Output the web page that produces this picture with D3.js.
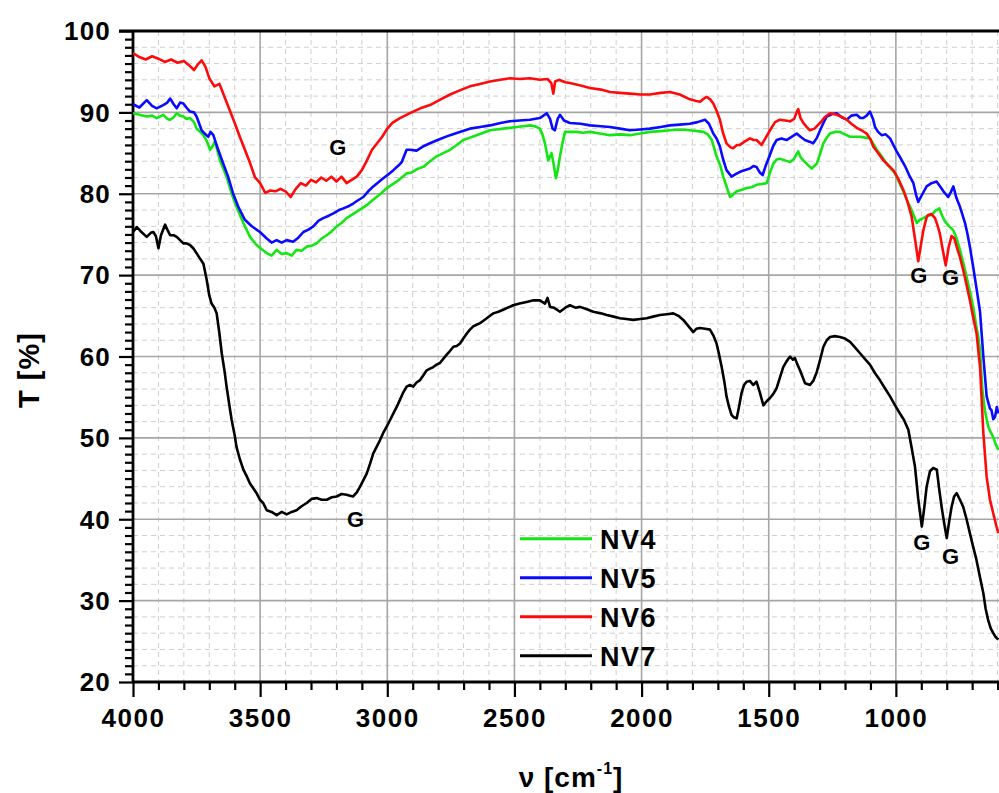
<!DOCTYPE html>
<html><head><meta charset="utf-8">
<script src="https://cdn.jsdelivr.net/npm/d3@7/dist/d3.min.js"></script>
<style>
body{margin:0;background:#fff;}
svg{display:block;font-family:"Liberation Sans",Arial,sans-serif;}
</style></head>
<body><svg id="c" width="999" height="793"></svg>
<script>
// ---- data (wavenumber cm-1, transmittance %) ----
const seriesNames = ["NV4","NV5","NV6","NV7"];
const seriesColors = ["#14e614","#0a0aff","#ff0a0a","#000000"];
const xTicks = [4000,3500,3000,2500,2000,1500,1000];
const yTicks = [20,30,40,50,60,70,80,90,100];

const nv4 = [[4000,89.9],[3975,89.7],[3946,89.5],[3925,89.6],[3907,89.3],[3881,89.7],[3865,89.2],[3854,89.1],[3840,89.4],[3828,89.9],[3815,89.6],[3802,89.5],[3790,89.2],[3776,89.3],[3760,88.8],[3750,88.0],[3735,87.6],[3723,87.2],[3710,86.5],[3697,85.4],[3688,85.8],[3678,86.4],[3668,85.3],[3658,84.1],[3645,83.1],[3632,82.1],[3612,80.0],[3593,78.4],[3566,76.4],[3540,74.7],[3514,73.7],[3495,73.2],[3474,72.7],[3455,72.4],[3435,73.1],[3415,72.6],[3396,72.7],[3376,72.4],[3357,73.1],[3337,73.0],[3317,73.5],[3298,73.6],[3278,73.9],[3258,74.5],[3238,74.9],[3218,75.4],[3199,76.0],[3180,76.4],[3160,77.0],[3140,77.4],[3120,77.8],[3100,78.2],[3081,78.6],[3062,79.1],[3042,79.6],[3022,80.1],[3002,80.7],[2983,81.1],[2963,81.5],[2943,82.0],[2924,82.5],[2905,82.6],[2885,83.0],[2858,83.3],[2832,84.0],[2806,84.6],[2780,85.0],[2753,85.4],[2727,86.0],[2701,86.6],[2675,86.9],[2649,87.2],[2622,87.5],[2596,87.8],[2570,87.9],[2544,88.0],[2518,88.1],[2491,88.2],[2465,88.3],[2439,88.4],[2420,88.3],[2400,88.0],[2390,87.3],[2380,86.2],[2367,84.1],[2360,84.6],[2354,85.0],[2345,83.5],[2337,81.9],[2329,83.0],[2321,84.6],[2310,86.4],[2301,87.6],[2280,87.6],[2255,87.6],[2230,87.5],[2203,87.6],[2165,87.4],[2124,87.2],[2085,87.3],[2046,87.2],[2005,87.4],[1967,87.6],[1925,87.7],[1888,87.8],[1850,87.9],[1810,87.8],[1780,87.7],[1757,87.6],[1740,87.3],[1724,86.6],[1705,84.6],[1690,83.4],[1679,82.1],[1665,80.8],[1652,79.6],[1640,79.9],[1626,80.3],[1605,80.5],[1587,80.7],[1568,80.8],[1548,81.1],[1528,81.2],[1508,81.3],[1495,82.6],[1482,83.7],[1469,84.2],[1456,84.3],[1436,84.1],[1416,83.9],[1400,84.3],[1390,84.9],[1384,85.2],[1375,84.5],[1364,84.1],[1348,83.6],[1331,83.1],[1311,83.7],[1298,84.9],[1285,86.2],[1272,86.9],[1259,87.4],[1240,87.6],[1220,87.6],[1200,87.3],[1180,87.0],[1160,87.0],[1141,87.0],[1120,86.9],[1102,86.8],[1088,86.1],[1075,85.4],[1056,84.6],[1036,83.7],[1020,83.1],[1003,82.5],[987,81.4],[971,80.3],[955,79.1],[938,78.0],[928,77.2],[918,76.4],[905,76.8],[892,77.0],[875,77.3],[859,77.4],[845,77.9],[829,78.2],[818,77.3],[807,76.6],[790,76.0],[774,75.5],[760,74.4],[748,73.1],[735,71.5],[722,69.8],[709,68.0],[696,66.1],[683,63.6],[676,62.4],[669,60.8],[660,56.0],[650,53.4],[643,52.3],[637,51.4],[627,50.7],[617,50.1],[607,49.2],[597,48.5]];

const nv5 = [[4000,91.0],[3975,90.6],[3946,91.5],[3925,90.8],[3907,90.5],[3881,90.9],[3865,91.2],[3854,91.7],[3840,91.0],[3828,90.5],[3815,91.2],[3802,91.1],[3790,90.6],[3776,90.1],[3760,90.0],[3750,89.5],[3730,87.8],[3715,87.3],[3704,87.0],[3695,87.6],[3684,87.2],[3665,85.4],[3645,83.7],[3626,82.1],[3606,80.0],[3586,78.4],[3560,76.8],[3533,76.0],[3501,75.3],[3474,74.5],[3455,74.0],[3435,74.3],[3415,74.0],[3396,74.3],[3370,74.1],[3350,74.6],[3330,75.3],[3310,75.6],[3291,76.0],[3270,76.7],[3252,77.0],[3230,77.3],[3212,77.6],[3190,78.0],[3173,78.2],[3150,78.5],[3134,78.8],[3115,79.2],[3094,79.6],[3075,80.3],[3055,80.9],[3035,81.4],[3016,81.9],[2995,82.4],[2976,82.9],[2955,83.5],[2943,83.9],[2924,85.4],[2911,85.4],[2885,85.3],[2860,85.8],[2832,86.2],[2795,86.7],[2753,87.2],[2715,87.6],[2675,88.0],[2635,88.2],[2596,88.4],[2555,88.7],[2518,88.9],[2480,89.0],[2439,89.1],[2400,89.3],[2373,89.9],[2360,89.2],[2350,88.0],[2341,87.8],[2330,89.2],[2321,89.7],[2305,89.0],[2282,88.7],[2240,88.6],[2203,88.4],[2160,88.3],[2124,88.2],[2085,88.0],[2046,87.8],[2005,87.9],[1967,88.0],[1925,88.2],[1888,88.4],[1850,88.5],[1810,88.6],[1780,88.8],[1751,89.1],[1735,88.6],[1718,87.4],[1705,86.8],[1692,85.8],[1680,84.3],[1666,82.9],[1646,82.1],[1630,82.4],[1613,82.7],[1595,82.9],[1574,83.1],[1560,83.4],[1548,83.3],[1535,82.6],[1524,82.3],[1510,83.6],[1495,84.8],[1482,85.9],[1469,86.6],[1450,86.8],[1430,86.6],[1410,87.0],[1390,87.4],[1375,87.0],[1358,86.6],[1340,86.4],[1325,86.2],[1310,86.9],[1298,87.8],[1285,88.7],[1272,89.5],[1250,89.8],[1233,89.9],[1213,89.4],[1193,89.1],[1175,89.6],[1154,89.7],[1140,89.3],[1128,89.3],[1115,89.6],[1102,90.1],[1090,89.2],[1082,88.2],[1070,87.6],[1056,87.2],[1040,87.3],[1023,86.8],[1010,86.0],[997,85.2],[980,84.3],[964,83.4],[948,82.3],[931,81.3],[920,79.8],[912,79.0],[895,80.0],[879,80.9],[860,81.3],[840,81.5],[826,80.9],[813,80.3],[794,79.6],[784,80.2],[774,80.9],[762,79.5],[748,78.4],[738,77.4],[728,76.4],[718,75.0],[709,73.5],[696,71.0],[682,68.2],[669,65.5],[656,60.0],[643,55.1],[630,53.6],[624,53.4],[617,52.3],[610,52.6],[603,53.8],[597,53.0]];

const nv6 = [[4000,97.3],[3975,96.8],[3950,96.5],[3925,96.9],[3900,96.6],[3875,96.2],[3850,96.5],[3825,96.1],[3800,96.3],[3780,95.8],[3760,95.2],[3745,95.9],[3730,96.4],[3715,95.6],[3700,94.2],[3680,93.2],[3660,93.5],[3640,91.9],[3620,90.3],[3600,88.7],[3580,87.0],[3560,85.4],[3540,83.8],[3520,82.0],[3500,81.3],[3480,80.1],[3460,80.4],[3440,80.3],[3420,80.6],[3400,80.3],[3380,79.6],[3360,80.6],[3340,81.3],[3320,81.0],[3300,81.7],[3280,81.4],[3260,82.0],[3240,81.6],[3220,82.1],[3200,81.5],[3180,82.1],[3160,81.3],[3140,81.7],[3120,82.1],[3100,82.9],[3080,84.1],[3060,85.4],[3040,86.2],[3020,87.0],[3000,88.0],[2980,88.7],[2950,89.3],[2911,89.9],[2870,90.5],[2832,90.9],[2790,91.6],[2753,92.2],[2715,92.7],[2675,93.2],[2635,93.5],[2596,93.8],[2555,94.0],[2518,94.2],[2480,94.1],[2439,94.2],[2400,94.0],[2370,94.1],[2355,93.6],[2347,92.3],[2340,93.8],[2325,94.0],[2300,93.7],[2282,93.6],[2240,93.3],[2203,93.0],[2160,92.8],[2124,92.5],[2085,92.4],[2046,92.3],[2005,92.2],[1967,92.2],[1925,92.4],[1888,92.5],[1850,92.2],[1810,91.6],[1785,91.4],[1770,91.3],[1755,91.7],[1744,91.9],[1730,91.6],[1718,91.1],[1705,90.2],[1692,89.1],[1680,87.5],[1666,86.2],[1650,85.7],[1640,85.6],[1625,86.0],[1613,86.0],[1595,86.4],[1574,86.8],[1560,86.6],[1548,86.6],[1535,86.2],[1528,86.0],[1510,87.0],[1495,87.8],[1475,88.8],[1456,89.1],[1435,89.0],[1416,88.9],[1400,89.2],[1390,90.0],[1384,90.4],[1375,89.3],[1364,88.7],[1350,88.2],[1338,87.8],[1320,88.0],[1298,88.7],[1280,89.4],[1259,89.9],[1233,89.7],[1210,89.4],[1193,89.1],[1175,88.6],[1154,88.1],[1135,87.8],[1115,87.4],[1100,86.7],[1089,85.8],[1070,85.0],[1049,84.1],[1030,83.5],[1010,82.9],[990,81.8],[971,80.5],[955,79.1],[938,77.2],[925,74.5],[912,71.7],[900,74.0],[892,75.5],[880,77.0],[873,77.4],[860,77.5],[846,77.0],[835,76.0],[827,75.1],[815,73.0],[804,71.2],[792,73.5],[781,74.8],[770,74.5],[761,73.5],[748,72.2],[735,70.6],[722,68.8],[709,66.9],[696,64.8],[683,62.9],[669,58.7],[656,50.6],[643,45.2],[630,42.4],[617,40.7],[605,39.2],[597,38.3]];

const nv7 = [[4000,75.3],[3985,75.9],[3970,75.4],[3946,74.7],[3930,75.2],[3920,75.3],[3910,74.8],[3900,73.3],[3890,74.9],[3874,76.2],[3862,75.4],[3854,74.9],[3840,74.9],[3828,74.7],[3815,74.3],[3802,73.9],[3790,73.9],[3776,73.7],[3763,73.3],[3750,72.7],[3736,72.0],[3723,71.4],[3710,69.4],[3700,67.5],[3691,66.5],[3680,66.0],[3671,65.3],[3660,62.8],[3651,60.4],[3640,58.2],[3632,56.3],[3620,53.8],[3612,52.2],[3600,50.3],[3593,48.9],[3580,47.4],[3566,46.1],[3553,45.3],[3540,44.4],[3527,43.8],[3514,43.2],[3501,42.4],[3488,42.0],[3474,41.1],[3455,40.9],[3435,40.5],[3415,40.9],[3396,40.6],[3376,40.9],[3357,41.1],[3337,41.6],[3317,42.0],[3298,42.5],[3278,42.6],[3258,42.4],[3238,42.4],[3218,42.7],[3199,42.8],[3180,43.1],[3160,43.0],[3147,42.9],[3134,42.8],[3120,43.3],[3107,44.0],[3094,44.8],[3081,45.6],[3068,46.8],[3055,48.1],[3042,48.9],[3029,49.7],[3016,50.6],[3002,51.4],[2989,52.2],[2976,53.0],[2963,53.8],[2950,54.7],[2937,55.6],[2924,56.3],[2911,56.5],[2898,56.3],[2885,56.8],[2871,57.1],[2858,57.7],[2845,58.3],[2832,58.5],[2819,58.7],[2806,59.0],[2793,59.2],[2780,59.7],[2767,60.2],[2753,60.7],[2740,61.2],[2727,61.3],[2714,61.6],[2701,62.2],[2688,62.8],[2675,63.3],[2662,63.7],[2649,63.9],[2635,64.1],[2622,64.4],[2609,64.7],[2596,65.0],[2583,65.3],[2563,65.5],[2540,65.8],[2505,66.3],[2480,66.5],[2452,66.7],[2425,66.9],[2400,66.9],[2380,66.5],[2370,67.2],[2360,66.1],[2345,66.0],[2321,65.5],[2300,66.0],[2282,66.3],[2260,66.0],[2242,66.1],[2215,65.8],[2190,65.5],[2160,65.3],[2137,65.1],[2110,64.9],[2085,64.7],[2060,64.6],[2033,64.5],[2005,64.6],[1980,64.7],[1955,64.9],[1928,65.1],[1900,65.2],[1875,65.3],[1855,65.0],[1836,64.5],[1815,63.7],[1797,63.0],[1785,63.4],[1770,63.5],[1750,63.4],[1731,63.3],[1718,62.6],[1705,61.6],[1695,60.2],[1685,58.7],[1675,57.0],[1666,55.1],[1656,53.8],[1646,52.8],[1636,52.5],[1626,52.4],[1617,53.8],[1607,55.5],[1597,56.5],[1587,56.9],[1574,57.0],[1561,56.5],[1548,56.9],[1535,55.6],[1521,54.0],[1508,54.5],[1495,54.9],[1482,55.4],[1469,56.1],[1456,57.4],[1443,58.7],[1430,59.4],[1416,60.0],[1405,59.6],[1397,59.8],[1387,59.0],[1377,58.3],[1367,57.5],[1357,56.7],[1338,56.5],[1325,57.0],[1311,58.1],[1298,59.6],[1285,61.2],[1272,62.0],[1259,62.4],[1240,62.5],[1220,62.4],[1200,62.2],[1180,61.8],[1160,61.1],[1141,60.4],[1122,59.7],[1102,59.0],[1083,58.0],[1063,57.1],[1043,56.1],[1023,55.1],[1003,54.0],[984,53.0],[968,52.2],[951,51.0],[938,48.8],[925,46.5],[912,42.5],[898,39.1],[888,41.5],[879,44.0],[866,45.9],[853,46.3],[839,46.1],[830,43.8],[820,41.5],[810,39.5],[800,37.7],[790,39.8],[781,41.5],[771,42.8],[761,43.2],[748,42.4],[735,41.5],[722,40.0],[709,38.3],[696,36.6],[683,35.0],[670,33.0],[656,30.9],[647,29.0],[637,27.6],[627,26.6],[617,26.0],[607,25.5],[597,25.2]];

// annotation labels: [wavenumber, T]
const gLabels = [[3195,84.8],[3125,39.0],[910,69.0],[785,68.8],[898,36.2],[785,34.5]];

const allSeries = [nv4, nv5, nv6, nv7];

// ---- drawing ----
const svg = d3.select("#c");
const W = 999, H = 793;
const x = d3.scaleLinear().domain([4000, 550]).range([133, 1010.3]);
const y = d3.scaleLinear().domain([20, 100]).range([682, 31]);

svg.append("rect").attr("width", W).attr("height", H).attr("fill", "#fff");

svg.append("defs").append("clipPath").attr("id", "clip")
  .append("rect").attr("x", 133).attr("y", 20).attr("width", W - 133).attr("height", 662);

// minor grid
const xMinor = d3.range(4000, 549, -100).filter(v => v % 500 !== 0);
const yMinorGrid = d3.range(20, 100, 2).filter(v => v % 10 !== 0);
const grid = svg.append("g");
grid.selectAll(".vmin").data(xMinor).join("line")
  .attr("x1", d => x(d)).attr("x2", d => x(d)).attr("y1", y(100)).attr("y2", y(20))
  .attr("stroke", "#cfcfcf").attr("stroke-width", 1).attr("stroke-dasharray", "5,4");
grid.selectAll(".hmin").data(yMinorGrid).join("line")
  .attr("x1", x(4000)).attr("x2", W).attr("y1", d => y(d)).attr("y2", d => y(d))
  .attr("stroke", "#cfcfcf").attr("stroke-width", 1).attr("stroke-dasharray", "5,4");
// major grid
grid.selectAll(".vmaj").data(xTicks.slice(1).concat([500])).join("line")
  .attr("x1", d => x(d)).attr("x2", d => x(d)).attr("y1", y(100)).attr("y2", y(20))
  .attr("stroke", "#a6a6a6").attr("stroke-width", 1.6);
grid.selectAll(".hmaj").data(yTicks.slice(1, -1)).join("line")
  .attr("x1", x(4000)).attr("x2", W).attr("y1", d => y(d)).attr("y2", d => y(d))
  .attr("stroke", "#a6a6a6").attr("stroke-width", 1.6);

// axes
const yMinorTicks = d3.range(20, 101, 1).filter(v => v % 10 !== 0);
const xMinorTicks = d3.range(4000, 549, -100).filter(v => v % 500 !== 0);

const yAxisMinor = svg.append("g").attr("transform", `translate(${x(4000)},0)`)
  .call(d3.axisLeft(y).tickValues(yMinorTicks).tickSize(8).tickFormat(""));
const yAxis = svg.append("g").attr("transform", `translate(${x(4000)},0)`)
  .call(d3.axisLeft(y).tickValues(yTicks).tickSize(14).tickPadding(8).tickFormat(d3.format("d")));
const xAxisMinor = svg.append("g").attr("transform", `translate(0,${y(20)})`)
  .call(d3.axisBottom(x).tickValues(xMinorTicks).tickSize(8).tickFormat(""));
const xAxis = svg.append("g").attr("transform", `translate(0,${y(20)})`)
  .call(d3.axisBottom(x).tickValues(xTicks).tickSize(15).tickPadding(12).tickFormat(d3.format("d")));

[yAxisMinor, yAxis, xAxisMinor, xAxis].forEach(g => {
  g.selectAll(".tick line").attr("stroke", "#000").attr("stroke-width", 2.2);
  g.select(".domain").attr("stroke", "#000").attr("stroke-width", 2.8);
});
yAxis.selectAll(".tick text").attr("font-size", 26).attr("font-weight", "bold")
  .attr("fill", "#000").attr("letter-spacing", 1.2).attr("dy", "0.34em");
xAxis.selectAll(".tick text").attr("font-size", 26).attr("font-weight", "bold")
  .attr("fill", "#000").attr("letter-spacing", 1.5);
[yAxisMinor, xAxisMinor].forEach(g => g.select(".domain").remove());
xAxis.select(".domain").attr("d", `M${x(4000)},0H${W}`);
yAxis.select(".domain").attr("d", `M0,${y(20)}V${y(100)}`);

// top frame line
svg.append("line").attr("x1", x(4000) - 14).attr("x2", W).attr("y1", y(100)).attr("y2", y(100))
  .attr("stroke", "#000").attr("stroke-width", 2.8);

// lines
const line = d3.line().x(d => x(d[0])).y(d => y(d[1]));
const plot = svg.append("g").attr("clip-path", "url(#clip)");
plot.selectAll(".series").data(allSeries).join("path")
  .attr("d", line).attr("fill", "none")
  .attr("stroke", (d, i) => seriesColors[i]).attr("stroke-width", 2.6)
  .attr("stroke-linejoin", "round");

// G annotations
svg.selectAll(".glab").data(gLabels).join("text")
  .attr("x", d => x(d[0])).attr("y", d => y(d[1]))
  .attr("text-anchor", "middle").attr("font-size", 22).attr("font-weight", "bold")
  .attr("fill", "#000").text("G");

// legend
const lg = svg.append("g");
const legendY = [538.7, 577.7, 616.7, 655.7];
seriesNames.forEach((n, i) => {
  lg.append("line").attr("x1", 520).attr("x2", 592).attr("y1", legendY[i]).attr("y2", legendY[i])
    .attr("stroke", seriesColors[i]).attr("stroke-width", 3);
  lg.append("text").attr("x", 600).attr("y", legendY[i] + 10.5)
    .attr("font-size", 27).attr("font-weight", "bold").attr("letter-spacing", 1.5)
    .attr("fill", "#000").text(n);
});

// axis titles
svg.append("text").attr("transform", "translate(39,370) rotate(-90)")
  .attr("text-anchor", "middle").attr("font-size", 29).attr("font-weight", "bold")
  .attr("letter-spacing", 1).attr("fill", "#000").text("T [%]");
const xt = svg.append("text").attr("x", 571).attr("y", 787)
  .attr("text-anchor", "middle").attr("font-size", 28).attr("font-weight", "bold")
  .attr("letter-spacing", 1).attr("fill", "#000");
xt.append("tspan").text("ν [cm");
xt.append("tspan").attr("font-size", 16).attr("dy", -13).text("-1");
xt.append("tspan").attr("dy", 13).text("]");
</script></body></html>
